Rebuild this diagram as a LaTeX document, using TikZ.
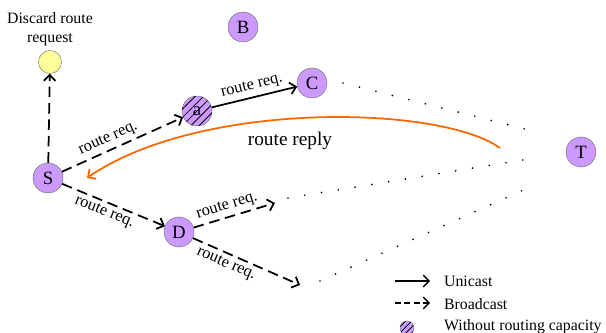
\documentclass[tikz,border=0pt]{standalone}
\usepackage{fontspec}
\setmainfont{Liberation Serif}
\usetikzlibrary{arrows.meta,patterns.meta}

\definecolor{nodepurple}{HTML}{CC99FF}
\definecolor{nodeyellow}{HTML}{FFFF99}
\definecolor{replyorange}{HTML}{FF6600}

\tikzset{
  station/.style={draw=black!55, fill=nodepurple, circle, inner sep=0pt,
    minimum size=0.9cm, font=\fontsize{16}{18}\selectfont},
  nocap/.style={station, postaction={pattern={Lines[angle=45,distance=5pt,line width=0.7pt]}}},
  unicast/.style={->, line width=1.5pt},
  bcast/.style={->, line width=1.5pt, dash pattern=on 9pt off 5pt},
  farlink/.style={line width=1.6pt, line cap=round, dash pattern=on 0pt off 14.5pt},
  req/.style={font=\fontsize{14}{16}\selectfont, sloped, inner sep=3pt},
}

\begin{document}
\begin{tikzpicture}[>={Straight Barb[length=5pt,width=10pt]}]
\useasboundingbox (0,0) rectangle (18.18,-9.99);

\node (txt) [align=center, font=\fontsize{13.5}{16}\selectfont] at (1.50,-0.87) {Discard route\\request};
\node (drop) [draw=black!55, fill=nodeyellow, circle, minimum size=0.69cm] at (1.50,-1.86) {};
\node (B) [station] at (7.29,-0.81) {B};
\node (a) [nocap] at (5.91,-3.33) {a};
\node (C) [station] at (9.36,-2.49) {C};
\node (T) [station] at (17.43,-4.56) {T};
\node (S) [station] at (1.44,-5.34) {S};
\node (D) [station] at (5.37,-6.96) {D};
\coordinate (d1) at (8.25,-6.09);
\coordinate (d2) at (9.00,-8.55);

% dotted hops on the way to T
\coordinate (f1) at (10.29,-2.49);
\coordinate (f2) at (15.87,-3.90);
\coordinate (f3) at (8.64,-5.94);
\coordinate (f4) at (15.87,-4.77);
\coordinate (f5) at (9.60,-8.43);
\coordinate (f6) at (15.84,-5.64);
\draw[farlink] (f1) -- (f2);
\draw[farlink] (f3) -- (f4);
\draw[farlink] (f5) -- (f6);

\draw[bcast] (S) -- (drop);
\draw[bcast] (S) -- node[req, above, pos=0.42] {route req.} (a);
\draw[unicast] (a) -- node[req, above] {route req.} (C);
\draw[bcast] (S) -- node[req, below, pos=0.45] {route req.} (D);
\draw[bcast] (D) -- node[req, above, pos=0.45] {route req.} (d1);
\draw[bcast] (D) -- node[req, below, pos=0.35] {route req.} (d2);

% reply back to the source
\coordinate (r1) at (15.00,-4.44);
\coordinate (r2) at (2.61,-5.34);
\draw[->, replyorange, line width=1.5pt] (r1) .. controls (13.20,-3.15) and (6.00,-3.00) .. (r2);
\node (rep) [font=\fontsize{16.5}{18}\selectfont] at (8.70,-4.23) {route reply};

% legend
\coordinate (u1) at (11.85,-8.43);
\coordinate (u2) at (12.90,-8.43);
\coordinate (b1) at (11.85,-9.09);
\coordinate (b2) at (12.90,-9.09);
\draw[->, line width=1.1pt] (u1) -- (u2);
\draw[->, line width=1.1pt, dash pattern=on 5pt off 3pt] (b1) -- (b2);
\node (l3) [draw=black!55, fill=nodepurple, circle, minimum size=0.42cm, inner sep=0pt,
  postaction={pattern={Lines[angle=45,distance=4pt,line width=1pt]}}] at (12.21,-9.84) {};
\node (t1) [anchor=west, font=\fontsize{13.5}{16}\selectfont] at (13.20,-8.43) {Unicast};
\node (t2) [anchor=west, font=\fontsize{13.5}{16}\selectfont] at (13.20,-9.12) {Broadcast};
\node (t3) [anchor=west, font=\fontsize{13.5}{16}\selectfont] at (13.20,-9.81) {Without routing capacity};

\end{tikzpicture}
\end{document}
